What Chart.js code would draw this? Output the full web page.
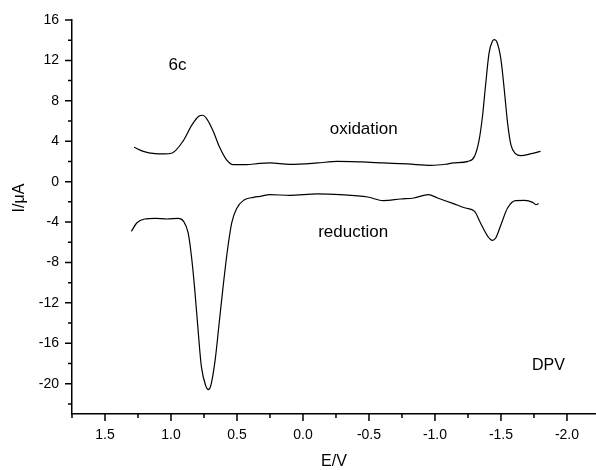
<!DOCTYPE html>
<html>
<head>
<meta charset="utf-8">
<script src="https://cdn.jsdelivr.net/npm/chart.js@4"></script>
<style>
    body { margin: 0; background: #fff; }
    #caixa { width: 596px; height: 470px; }
</style>
</head>
<body>
<div id="caixa"><canvas id="graficoDPV"></canvas></div>
<script>
// Potencial (V) e corrente (uA) das duas varreduras
const potencialOxidacao = [1.28, 1.21, 1.12, 1.05, 0.99, 0.91, 0.84, 0.79, 0.76, 0.725, 0.68, 0.635, 0.58, 0.53, 0.43, 0.33, 0.25, 0.10, -0.11, -0.26, -0.44, -0.61, -0.79, -0.97, -1.08, -1.14, -1.25, -1.30, -1.335, -1.36, -1.385, -1.41, -1.435, -1.45, -1.47, -1.50, -1.525, -1.55, -1.575, -1.61, -1.65, -1.73, -1.80];
const correnteOxidacao = [3.40, 3.00, 2.77, 2.74, 2.84, 3.99, 5.64, 6.47, 6.57, 6.14, 4.98, 3.50, 2.18, 1.68, 1.68, 1.80, 1.85, 1.71, 1.85, 2.01, 1.95, 1.85, 1.75, 1.61, 1.72, 1.85, 2.01, 2.51, 4.16, 6.47, 9.77, 12.74, 13.89, 14.06, 13.80, 12.08, 9.11, 5.81, 3.66, 2.77, 2.57, 2.77, 3.00];

const potencialReducao = [1.30, 1.26, 1.20, 1.12, 1.03, 0.945, 0.905, 0.87, 0.845, 0.82, 0.795, 0.77, 0.735, 0.717, 0.70, 0.665, 0.635, 0.605, 0.575, 0.54, 0.50, 0.45, 0.375, 0.325, 0.25, 0.10, -0.11, -0.28, -0.49, -0.61, -0.74, -0.84, -0.95, -1.02, -1.14, -1.23, -1.30, -1.345, -1.40, -1.435, -1.46, -1.50, -1.55, -1.61, -1.68, -1.74, -1.765, -1.785];
const correnteReducao = [-4.92, -4.09, -3.70, -3.63, -3.70, -3.63, -3.93, -5.08, -7.39, -10.69, -14.65, -18.29, -20.27, -20.59, -20.27, -17.62, -13.99, -10.37, -7.06, -4.09, -2.60, -1.85, -1.55, -1.45, -1.29, -1.35, -1.22, -1.29, -1.52, -1.88, -1.72, -1.62, -1.29, -1.62, -2.18, -2.61, -2.94, -4.09, -5.41, -5.81, -5.58, -4.26, -2.61, -1.88, -1.85, -2.05, -2.28, -2.18];

// marcas dos eixos
const ticksX = [1.5, 1.0, 0.5, 0.0, -0.5, -1.0, -1.5, -2.0];
const ticksXMenores = [1.75, 1.25, 0.75, 0.25, -0.25, -0.75, -1.25, -1.75];
const ticksY = [16, 12, 8, 4, 0, -4, -8, -12, -16, -20];
const ticksYMenores = [14, 10, 6, 2, -2, -6, -10, -14, -18, -22];

// textos soltos no grafico, em coordenadas de dados
const rotulos = [
    { texto: '6c', x: 0.95, y: 11.5, tamanho: 17 },
    { texto: 'oxidation', x: -0.46, y: 5.15, tamanho: 17 },
    { texto: 'reduction', x: -0.38, y: -5.05, tamanho: 17 },
    { texto: 'DPV', x: -1.86, y: -18.2, tamanho: 16 }
];

const fonte = '"Liberation Sans", Arial, sans-serif';

function montarPontos(xs, ys) {
    let pontos = [];
    for (let i = 0; i < xs.length; i++) {
        pontos.push({ x: xs[i], y: ys[i] });
    }
    return pontos;
}

// desenha os tracinhos dos eixos, os titulos e os rotulos
const pluginEixos = {
    id: 'eixos',
    afterDraw(chart) {
        const ctx = chart.ctx;
        const area = chart.chartArea;
        const sx = chart.scales.x;
        const sy = chart.scales.y;

        ctx.save();
        ctx.strokeStyle = '#000';
        ctx.lineWidth = 1.5;
        ctx.beginPath();
        ticksX.forEach(v => {
            const px = sx.getPixelForValue(v);
            ctx.moveTo(px, area.bottom);
            ctx.lineTo(px, area.bottom + 7);
        });
        ticksXMenores.forEach(v => {
            const px = sx.getPixelForValue(v);
            ctx.moveTo(px, area.bottom);
            ctx.lineTo(px, area.bottom + 4);
        });
        ticksY.forEach(v => {
            const py = sy.getPixelForValue(v);
            ctx.moveTo(area.left, py);
            ctx.lineTo(area.left - 7, py);
        });
        ticksYMenores.forEach(v => {
            const py = sy.getPixelForValue(v);
            ctx.moveTo(area.left, py);
            ctx.lineTo(area.left - 4, py);
        });
        ctx.stroke();

        ctx.fillStyle = '#000';
        ctx.textAlign = 'center';
        ctx.textBaseline = 'middle';

        rotulos.forEach(r => {
            ctx.font = r.tamanho + 'px ' + fonte;
            ctx.fillText(r.texto, sx.getPixelForValue(r.x), sy.getPixelForValue(r.y));
        });

        ctx.font = '16px ' + fonte;
        ctx.fillText('E/V', (area.left + area.right) / 2, 462);

        ctx.translate(20, 198);
        ctx.rotate(-Math.PI / 2);
        ctx.fillText('I/\u03bcA', 0, 0);
        ctx.restore();
    }
};

function plotarGrafico() {
    const dados = {
        datasets: [
            {
                label: 'oxidation',
                data: montarPontos(potencialOxidacao, correnteOxidacao),
                borderColor: '#000',
                borderWidth: 1.2,
                pointRadius: 0,
                showLine: true,
                cubicInterpolationMode: 'monotone'
            },
            {
                label: 'reduction',
                data: montarPontos(potencialReducao, correnteReducao),
                borderColor: '#000',
                borderWidth: 1.2,
                pointRadius: 0,
                showLine: true,
                cubicInterpolationMode: 'monotone'
            }
        ]
    };

    const config = {
        type: 'scatter',
        data: dados,
        options: {
            responsive: true,
            maintainAspectRatio: false,
            animation: false,
            layout: { padding: { top: 20, right: 0, left: 0, bottom: 0 } },
            plugins: {
                legend: { display: false },
                tooltip: { enabled: false }
            },
            scales: {
                x: {
                    type: 'linear',
                    reverse: true,
                    min: -2.22,
                    max: 1.75,
                    grid: { display: false },
                    border: { color: '#000', width: 1.5 },
                    afterBuildTicks: (escala) => {
                        escala.ticks = ticksX.map(v => ({ value: v }));
                    },
                    afterFit: (escala) => { escala.height = 56; },
                    ticks: {
                        padding: 5,
                        color: '#000',
                        maxRotation: 0,
                        autoSkip: false,
                        font: { family: fonte, size: 14 },
                        callback: (v) => Number(v).toFixed(1)
                    }
                },
                y: {
                    type: 'linear',
                    min: -23,
                    max: 16,
                    grid: { display: false },
                    border: { color: '#000', width: 1.5 },
                    afterBuildTicks: (escala) => {
                        escala.ticks = ticksY.map(v => ({ value: v }));
                    },
                    afterFit: (escala) => { escala.width = 72; },
                    ticks: {
                        padding: 5,
                        color: '#000',
                        autoSkip: false,
                        font: { family: fonte, size: 14 },
                        callback: (v) => String(v)
                    }
                }
            }
        },
        plugins: [pluginEixos]
    };

    const contexto = document.getElementById('graficoDPV').getContext('2d');
    new Chart(contexto, config);
}

window.onload = () => {
    plotarGrafico();
};
</script>
</body>
</html>
